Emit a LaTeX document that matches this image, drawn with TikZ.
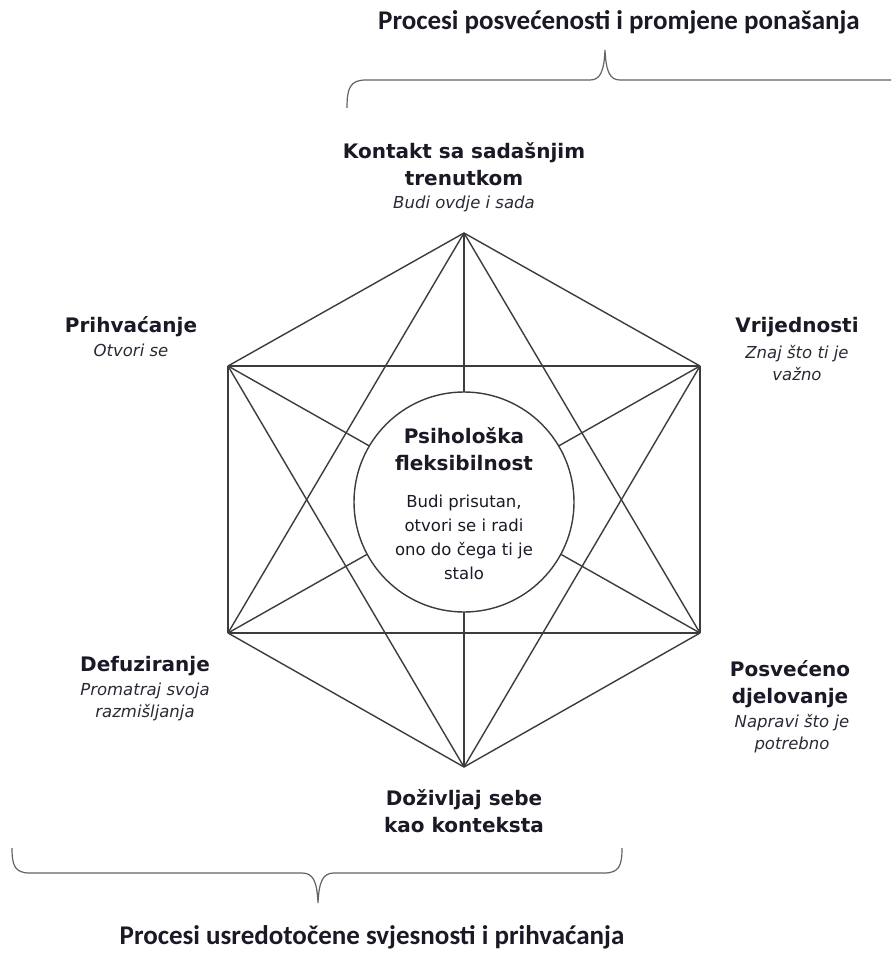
\documentclass[tikz,border=0pt]{standalone}
\usepackage{fontspec}
\setmainfont{DejaVu Sans}
\newfontfamily\titlefont{Carlito}
\definecolor{linegray}{HTML}{3C3C3C}
\definecolor{txt}{HTML}{1A1A26}
\definecolor{subtxt}{HTML}{2A2A36}
\begin{document}
\begin{tikzpicture}[x=1pt,y=-1pt,
  edge/.style={draw=linegray,line width=1.4pt},
  brace/.style={draw=linegray!80,line width=1.2pt},
  lbl/.style={align=center,text=txt,inner sep=0pt,font=\fontsize{20}{27}\selectfont\bfseries},
  sub/.style={align=center,text=subtxt,inner sep=0pt,font=\fontsize{16.5}{22}\selectfont\itshape},
  ttl/.style={text=txt,inner sep=0pt,font=\titlefont\fontsize{27}{32}\selectfont\bfseries}]
\useasboundingbox (0,0) rectangle (891,957);
\fill[white] (0,0) rectangle (891,957);
% vertices
\coordinate (T) at (464,233);
\coordinate (UL) at (228,366);
\coordinate (UR) at (700,366);
\coordinate (LL) at (228,633);
\coordinate (LR) at (700,633);
\coordinate (B) at (464,767);
% all 15 edges
\foreach \a/\b in {T/UL,T/UR,T/LL,T/LR,T/B,UL/UR,UL/LL,UL/LR,UL/B,UR/LL,UR/LR,UR/B,LL/LR,LL/B,LR/B}
  \draw[edge] (\a) -- (\b);
% centre circle
\node[circle,draw=linegray,line width=1.4pt,fill=white,minimum size=220pt,inner sep=0pt] (C) at (464,502) {};
\node[align=center,text=txt,inner sep=0pt,font=\fontsize{20}{27}\selectfont\bfseries] (Ct) at (464,449) {Psihološka\\fleksibilnost};
\node[align=center,text=txt,inner sep=0pt,font=\fontsize{16.5}{24}\selectfont,anchor=north] (Cs) at (464,495) {Budi prisutan,\\otvori se i radi\\ono do čega ti je\\stalo};
% labels
\node[lbl] (Kt) at (464,164) {Kontakt sa sadašnjim\\trenutkom};
\node[sub] (Ks) at (464,204) {Budi ovdje i sada};
\node[lbl] (Pt) at (131,327) {Prihvaćanje};
\node[sub] (Ps) at (131,350) {Otvori se};
\node[lbl] (Vt) at (797,327) {Vrijednosti};
\node[sub] (Vs) at (797,363) {Znaj što ti je\\važno};
\node[lbl] (Dt) at (145,666) {Defuziranje};
\node[sub] (Ds) at (145,702) {Promatraj svoja\\razmišljanja};
\node[lbl] (Pdt) at (790,684) {Posvećeno\\djelovanje};
\node[sub] (Pds) at (792,734) {Napravi što je\\potrebno};
\node[lbl] (Dzt) at (464,811) {Doživljaj sebe\\kao konteksta};
% titles
\node[ttl] (Top) at (619,22) {Procesi posvećenosti i promjene ponašanja};
\node[ttl] (Bot) at (372,937) {Procesi usredotočene svjesnosti i prihvaćanja};
% braces
\draw[brace] (347,108) .. controls (347,88) and (350,80) .. (366,80) -- (590,80)
  .. controls (600,80) and (604,72) .. (605,50) .. controls (606,72) and (610,80) .. (620,80) -- (891,80);
\draw[brace] (12,848) .. controls (12,866) and (15,873) .. (30,873) -- (302,873)
  .. controls (313,873) and (317,881) .. (318,903) .. controls (319,881) and (323,873) .. (334,873) -- (604,873)
  .. controls (619,873) and (622,866) .. (622,848);
\end{tikzpicture}
\end{document}
